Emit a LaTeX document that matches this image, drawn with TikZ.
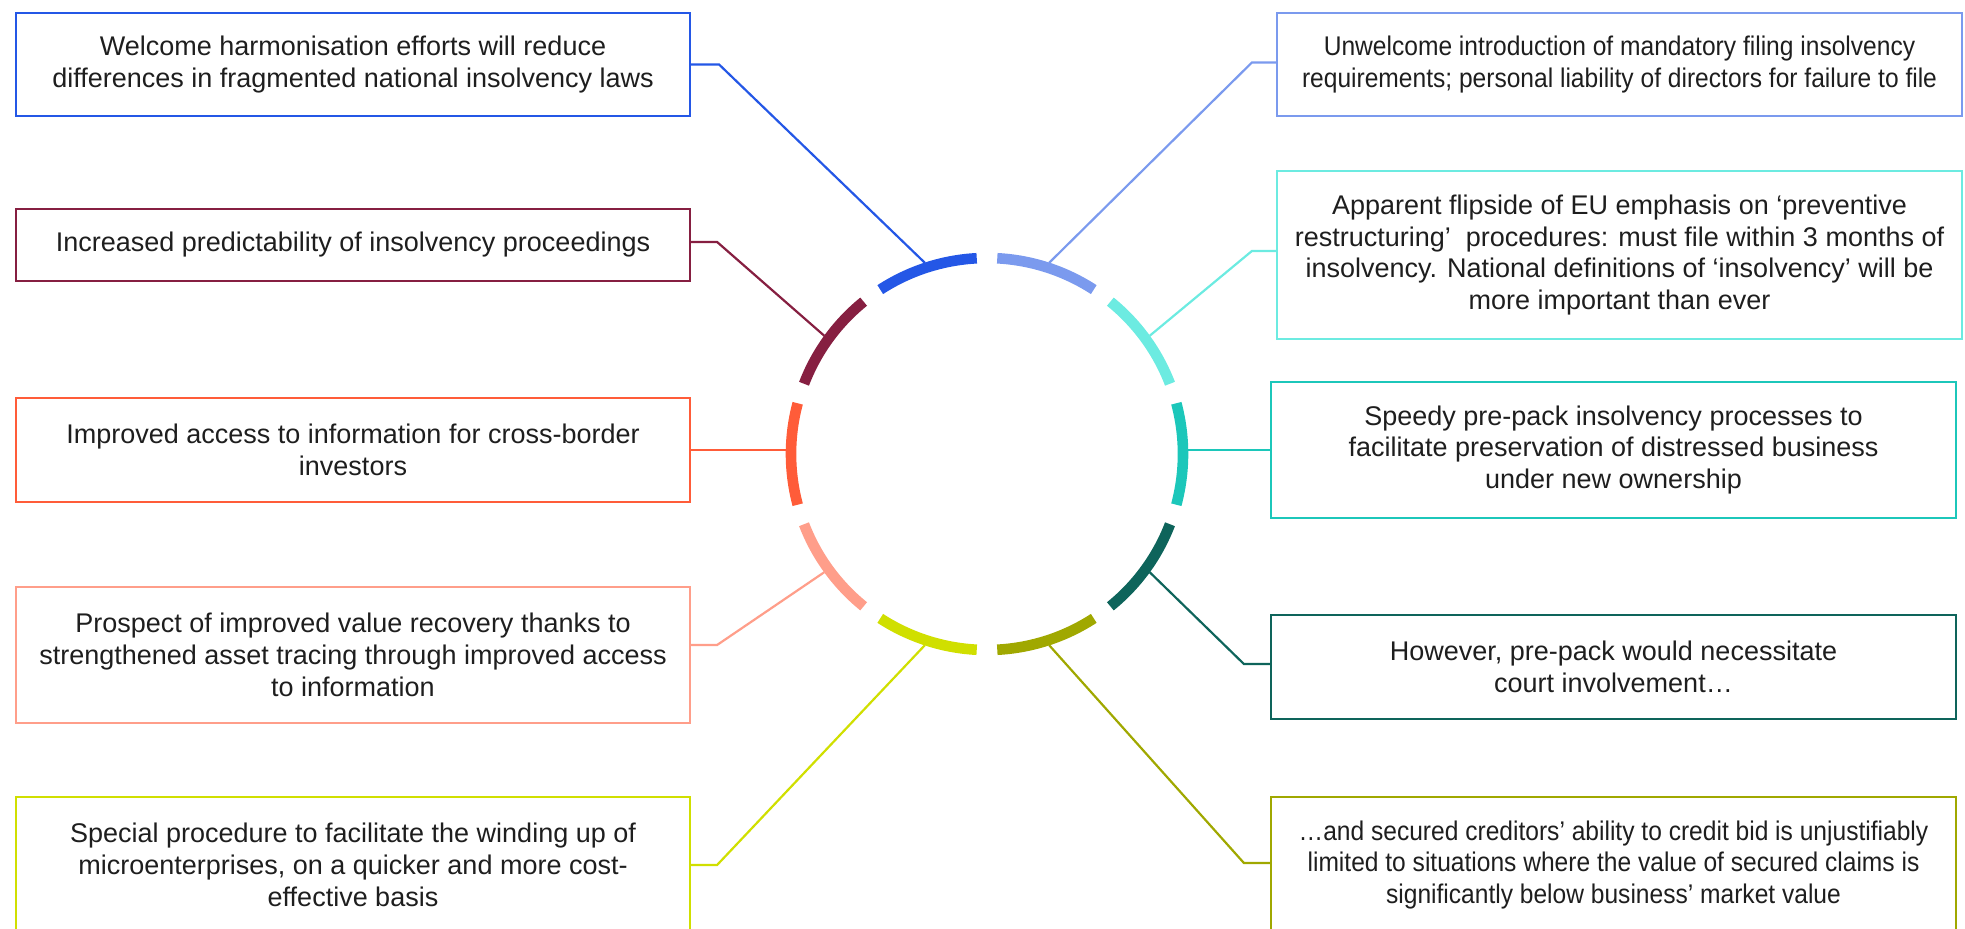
\documentclass[tikz,border=0pt]{standalone}
\usepackage{fontspec}
\setmainfont{Liberation Sans}
\newfontfamily\narrowsans[FakeStretch=0.91]{Liberation Sans}
\definecolor{segblue}{HTML}{2457E6}
\definecolor{segmaroon}{HTML}{861F41}
\definecolor{segorange}{HTML}{FF5C39}
\definecolor{segsalmon}{HTML}{FF9E8A}
\definecolor{seglime}{HTML}{D0DF00}
\definecolor{segolive}{HTML}{A0A800}
\definecolor{segdkteal}{HTML}{0E645B}
\definecolor{segteal}{HTML}{1CC7BA}
\definecolor{segaqua}{HTML}{6CEBE1}
\definecolor{segperi}{HTML}{7B9AEE}
\definecolor{txtgray}{HTML}{1E1E1E}
\begin{document}
\begin{tikzpicture}[x=0.5pt,y=0.5pt,
        box/.style={draw=#1, line width=1.1pt, align=center, inner sep=0pt, text=txtgray,
            font=\fontsize{13.5}{15.85}\selectfont},
        link/.style={draw=#1, line width=1.1pt},
        seg/.style={draw=#1, line width=5.3pt}]
        \useasboundingbox (0,0) rectangle (1965,-929);
        \clip (0,0) rectangle (1965,-929);
        \coordinate (ctr) at (987,-454);
        \foreach \a/\c in {93/segblue,129/segmaroon,165/segorange,201/segsalmon,237/seglime,
                273/segolive,309/segdkteal,345/segteal,21/segaqua,57/segperi}
            \draw[seg=\c] ([shift={(\a:196)}]ctr) arc[start angle=\a, delta angle=30, radius=196];
        \foreach \n/\a in {a1/108,a2/144,a3/180,a4/216,a5/252,r1/72,r2/36,r3/0,r4/324,r5/288}
            \coordinate (\n) at ([shift={(\a:201)}]ctr);
        \node[box=segblue, minimum width=337pt, minimum height=51.5pt] (pro1) at (353,-64.5)
            {Welcome harmonisation efforts will reduce\\differences in fragmented national insolvency laws};
        \node[box=segmaroon, minimum width=337pt, minimum height=36pt] (pro2) at (353,-245)
            {Increased predictability of insolvency proceedings};
        \node[box=segorange, minimum width=337pt, minimum height=52pt] (pro3) at (353,-450)
            {Improved access to information for cross-border\\investors};
        \node[box=segsalmon, minimum width=337pt, minimum height=68pt] (pro4) at (353,-655)
            {Prospect of improved value recovery thanks to\\strengthened asset tracing through improved access\\to information};
        \node[box=seglime, minimum width=337pt, minimum height=68pt] (pro5) at (353,-865)
            {Special procedure to facilitate the winding up of\\microenterprises, on a quicker and more cost-\\effective basis};
        \node[box=segperi, minimum width=342.5pt, minimum height=51.5pt] (con1) at (1619.5,-64.5)
            {\narrowsans Unwelcome introduction of mandatory filing insolvency\\\narrowsans requirements; personal liability of directors for failure to file};
        \node[box=segaqua, minimum width=342.5pt, minimum height=84pt] (con2) at (1619.5,-255)
            {Apparent flipside of EU emphasis on ‘preventive\\restructuring’~ procedures: must file within 3 months of\\insolvency. National definitions of ‘insolvency’ will be\\more important than ever};
        \node[box=segteal, minimum width=342.5pt, minimum height=68pt] (con3) at (1613.5,-450)
            {Speedy pre-pack insolvency processes to\\facilitate preservation of distressed business\\under new ownership};
        \node[box=segdkteal, minimum width=342.5pt, minimum height=52pt] (con4) at (1613.5,-667)
            {However, pre-pack would necessitate\\court involvement…};
        \node[box=segolive, minimum width=342.5pt, minimum height=68pt] (con5) at (1613.5,-865)
            {\narrowsans …and secured creditors’ ability to credit bid is unjustifiably\\\narrowsans limited to situations where the value of secured claims is\\\narrowsans significantly below business’ market value};
        \draw[link=segblue] (pro1.east) -- ++(28,0) -- (a1);
        \draw[link=segmaroon] ([yshift=1.5pt]pro2.east) -- ++(26,0) -- (a2);
        \draw[link=segorange] (pro3.east) -- (pro3.east -| a3);
        \draw[link=segsalmon] ([yshift=5pt]pro4.east) -- ++(26,0) -- (a4);
        \draw[link=seglime] (pro5.east) -- ++(26,0) -- (a5);
        \draw[link=segperi] ([yshift=1pt]con1.west) -- ++(-24,0) -- (r1);
        \draw[link=segaqua] ([yshift=2pt]con2.west) -- ++(-24,0) -- (r2);
        \draw[link=segteal] (con3.west) -- (con3.west -| r3);
        \draw[link=segdkteal] ([yshift=1.5pt]con4.west) -- ++(-26,0) -- (r4);
        \draw[link=segolive] ([yshift=1pt]con5.west) -- ++(-26,0) -- (r5);
    \end{tikzpicture}
\end{document}
